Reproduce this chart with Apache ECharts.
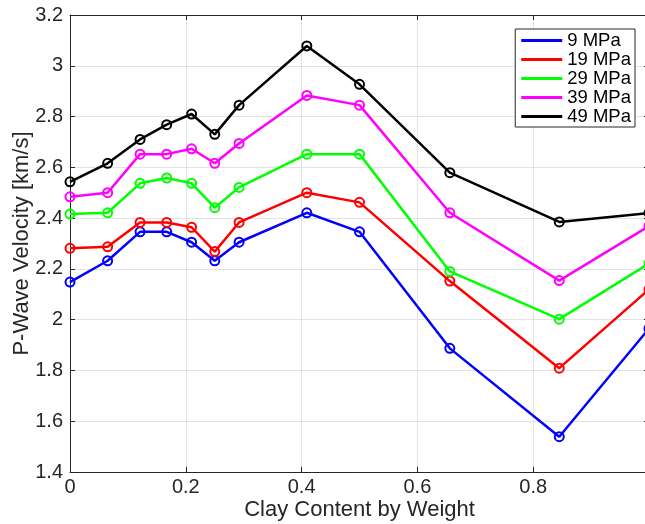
<!DOCTYPE html>
<html>
<head>
<meta charset="utf-8">
<script src="https://cdn.jsdelivr.net/npm/echarts@6/dist/echarts.min.js"></script>
<style>
  html, body { margin: 0; padding: 0; background: #fff; }
  #chart { width: 645px; height: 524px; }
</style>
</head>
<body>
<div id="chart"></div>
<script>
// Clay content (weight fraction) of each sample
const clayContent = [0, 0.065, 0.121, 0.167, 0.21, 0.25, 0.292, 0.409, 0.5, 0.656, 0.845, 1.0];

// P-wave velocity (km/s) at each confining pressure
const vp9MPa  = [2.148, 2.232, 2.346, 2.346, 2.305, 2.232, 2.305, 2.421, 2.346, 1.887, 1.539, 1.965];
const vp19MPa = [2.281, 2.287, 2.383, 2.383, 2.364, 2.268, 2.383, 2.500, 2.462, 2.152, 1.809, 2.119];
const vp29MPa = [2.416, 2.421, 2.537, 2.558, 2.537, 2.441, 2.521, 2.652, 2.652, 2.190, 2.002, 2.221];
const vp39MPa = [2.484, 2.500, 2.652, 2.652, 2.673, 2.616, 2.694, 2.883, 2.845, 2.421, 2.154, 2.369];
const vp49MPa = [2.543, 2.616, 2.710, 2.768, 2.810, 2.730, 2.845, 3.078, 2.927, 2.579, 2.385, 2.420];

const seriesNames = ['9 MPa', '19 MPa', '29 MPa', '39 MPa', '49 MPa'];
const seriesValues = [vp9MPa, vp19MPa, vp29MPa, vp39MPa, vp49MPa];
const seriesColors = ['#0000ff', '#ff0000', '#00ff00', '#ff00ff', '#000000'];

// Axis ticks
const xTicks = [0, 0.2, 0.4, 0.6, 0.8, 1.0];
const yTicks = [1.4, 1.6, 1.8, 2.0, 2.2, 2.4, 2.6, 2.8, 3.0, 3.2];

const FONT = "'Liberation Sans', Arial, Helvetica, sans-serif";
const AXIS_COLOR = '#262626';
const GRID_COLOR = '#e3e3e3';

const chart = echarts.init(document.getElementById('chart'), null, { renderer: 'canvas' });

const series = seriesNames.map((name, i) => ({
  name: name,
  type: 'line',
  data: clayContent.map((x, j) => [x, seriesValues[i][j]]),
  symbol: 'circle',
  symbolSize: 9,
  showSymbol: true,
  animation: false,
  lineStyle: { color: seriesColors[i], width: 2.5 },
  itemStyle: { color: 'rgba(0,0,0,0)', borderColor: seriesColors[i], borderWidth: 2 },
  emphasis: { disabled: true },
  xAxisIndex: 0,
  yAxisIndex: 0
}));

const tickStyle = { show: true, inside: true, length: 5, lineStyle: { color: AXIS_COLOR, width: 1 } };

chart.setOption({
  backgroundColor: '#ffffff',
  animation: false,
  textStyle: { fontFamily: FONT },
  grid: { left: 70, right: -4, top: 15, bottom: 52, containLabel: false, outerBoundsMode: 'none' },
  legend: {
    orient: 'vertical',
    right: 10,
    top: 29,
    padding: [2, 4, 1, 6],
    itemGap: 0,
    itemWidth: 41,
    itemHeight: 3,
    backgroundColor: '#ffffff',
    borderColor: AXIS_COLOR,
    borderWidth: 1,
    textStyle: { fontFamily: FONT, fontSize: 18.5, color: '#000', lineHeight: 18, padding: [1, 0, 0, 0] },
    data: seriesNames.map((n, i) => ({ name: n, icon: 'rect', itemStyle: { color: seriesColors[i], borderWidth: 0 } }))
  },
  xAxis: [
    {
      type: 'value',
      min: xTicks[0],
      max: xTicks[xTicks.length - 1],
      interval: 0.2,
      name: 'Clay Content by Weight',
      nameLocation: 'middle',
      nameGap: 27,
      nameMoveOverlap: false,
      nameTextStyle: { fontFamily: FONT, fontSize: 22, color: AXIS_COLOR },
      axisLine: { show: true, onZero: false, lineStyle: { color: AXIS_COLOR, width: 1 } },
      axisTick: tickStyle,
      axisLabel: { fontFamily: FONT, fontSize: 20, color: AXIS_COLOR, margin: 5, showMaxLabel: false,
                   formatter: v => String(+v.toFixed(1)) },
      splitLine: { show: true, lineStyle: { color: GRID_COLOR, width: 1 } }
    },
    {
      type: 'value',
      position: 'top',
      min: xTicks[0],
      max: xTicks[xTicks.length - 1],
      interval: 0.2,
      axisLine: { show: true, onZero: false, lineStyle: { color: AXIS_COLOR, width: 1 } },
      axisTick: tickStyle,
      axisLabel: { show: false },
      splitLine: { show: false }
    }
  ],
  yAxis: [
    {
      type: 'value',
      min: yTicks[0],
      max: yTicks[yTicks.length - 1],
      interval: 0.2,
      name: 'P-Wave Velocity [km/s]',
      nameLocation: 'middle',
      nameGap: 37,
      nameMoveOverlap: false,
      nameTextStyle: { fontFamily: FONT, fontSize: 22, color: AXIS_COLOR },
      axisLine: { show: true, onZero: false, lineStyle: { color: AXIS_COLOR, width: 1 } },
      axisTick: tickStyle,
      axisLabel: { fontFamily: FONT, fontSize: 20, color: AXIS_COLOR, margin: 7,
                   formatter: v => String(+v.toFixed(1)) },
      splitLine: { show: true, lineStyle: { color: GRID_COLOR, width: 1 } }
    },
    {
      type: 'value',
      position: 'right',
      min: yTicks[0],
      max: yTicks[yTicks.length - 1],
      interval: 0.2,
      axisLine: { show: true, onZero: false, lineStyle: { color: AXIS_COLOR, width: 1 } },
      axisTick: tickStyle,
      axisLabel: { show: false },
      splitLine: { show: false }
    }
  ],
  series: series
});
</script>
</body>
</html>
